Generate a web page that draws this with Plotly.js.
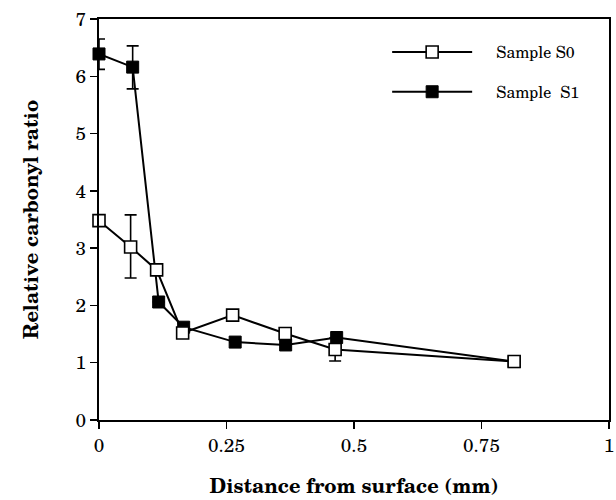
<!DOCTYPE html>
<html>
<head>
<meta charset="utf-8">
<script src="https://cdn.plot.ly/plotly-3.0.1.min.js"></script>
<style>html,body{margin:0;padding:0;background:#fff;}#chart{width:616px;height:500px;}</style>
</head>
<body>
<div id="chart"></div>
<script>
// Sample S0 (open squares)
var xS0 = [0, 0.062, 0.113, 0.164, 0.262, 0.365, 0.463, 0.814];
var yS0 = [3.48, 3.02, 2.62, 1.52, 1.83, 1.51, 1.23, 1.02];
var errPlusS0 = [null, 0.56, null, null, null, null, 0.2, null];
var errMinusS0 = [null, 0.54, null, null, null, null, 0.2, null];
// Sample S1 (filled squares)
var xS1 = [0, 0.066, 0.117, 0.166, 0.267, 0.366, 0.466, 0.814];
var yS1 = [6.39, 6.16, 2.06, 1.62, 1.36, 1.31, 1.44, 1.02];
var errPlusS1 = [0.26, 0.37, null, null, null, null, null, null];
var errMinusS1 = [0.27, 0.38, null, null, null, null, null, null];

var seriesNames = ["Sample S0", "Sample  S1"];
var xTicks = [0, 0.25, 0.5, 0.75, 1];
var xTickText = ["0", "0.25", "0.5", "0.75", "1"];
var yTicks = [0, 1, 2, 3, 4, 5, 6, 7];

var font = "'Century Schoolbook', 'TeX Gyre Schola', 'DejaVu Serif', 'Liberation Serif', serif";
var pad = "\u2002\u2002\u2009";

var traceS1 = {
  x: xS1, y: yS1, name: pad + seriesNames[1], type: "scatter", mode: "lines+markers",
  legendrank: 2, legendgroup: "b",
  line: {color: "#000", width: 2},
  marker: {symbol: "square", size: 12, color: "#000", line: {color: "#000", width: 1}},
  error_y: {type: "data", symmetric: false, array: errPlusS1, arrayminus: errMinusS1,
            color: "#000", thickness: 1.6, width: 6},
  cliponaxis: false
};
var traceS0 = {
  x: xS0, y: yS0, name: pad + seriesNames[0], type: "scatter", mode: "lines+markers",
  legendrank: 1, legendgroup: "a",
  line: {color: "#000", width: 2},
  marker: {symbol: "square", size: 12, color: "#fff", line: {color: "#000", width: 1.6}},
  error_y: {type: "data", symmetric: false, array: errPlusS0, arrayminus: errMinusS0,
            color: "#000", thickness: 1.6, width: 6},
  cliponaxis: false
};

var layout = {
  width: 616, height: 500,
  margin: {l: 99, r: 7, t: 19, b: 80},
  paper_bgcolor: "#fff", plot_bgcolor: "#fff",
  font: {family: font, color: "#000", size: 18},
  showlegend: true,
  legend: {x: 0.565, y: 0.96, xanchor: "left", yanchor: "top",
           font: {family: font, size: 16, color: "#000"},
           bgcolor: "rgba(0,0,0,0)", tracegroupgap: 16, itemwidth: 80},
  xaxis: {
    range: [0, 1], tickvals: xTicks, ticktext: xTickText,
    showline: true, linecolor: "#000", linewidth: 2, mirror: true,
    ticks: "outside", ticklen: 7, tickwidth: 1.5, tickcolor: "#000",
    showgrid: false, zeroline: false,
    tickfont: {family: font, size: 19},
    title: {text: "<b>Distance from surface (mm)</b>", font: {family: font, size: 20}, standoff: 22}
  },
  yaxis: {
    range: [0, 7], tickvals: yTicks,
    showline: true, linecolor: "#000", linewidth: 2, mirror: true,
    ticks: "outside", ticklen: 7, tickwidth: 1.5, tickcolor: "#000",
    showgrid: false, zeroline: false,
    tickfont: {family: font, size: 19},
    title: {text: "<b>Relative carbonyl ratio</b>", font: {family: font, size: 20}, standoff: 32}
  }
};

Plotly.newPlot("chart", [traceS1, traceS0], layout, {displayModeBar: false, staticPlot: true});
</script>
</body>
</html>
